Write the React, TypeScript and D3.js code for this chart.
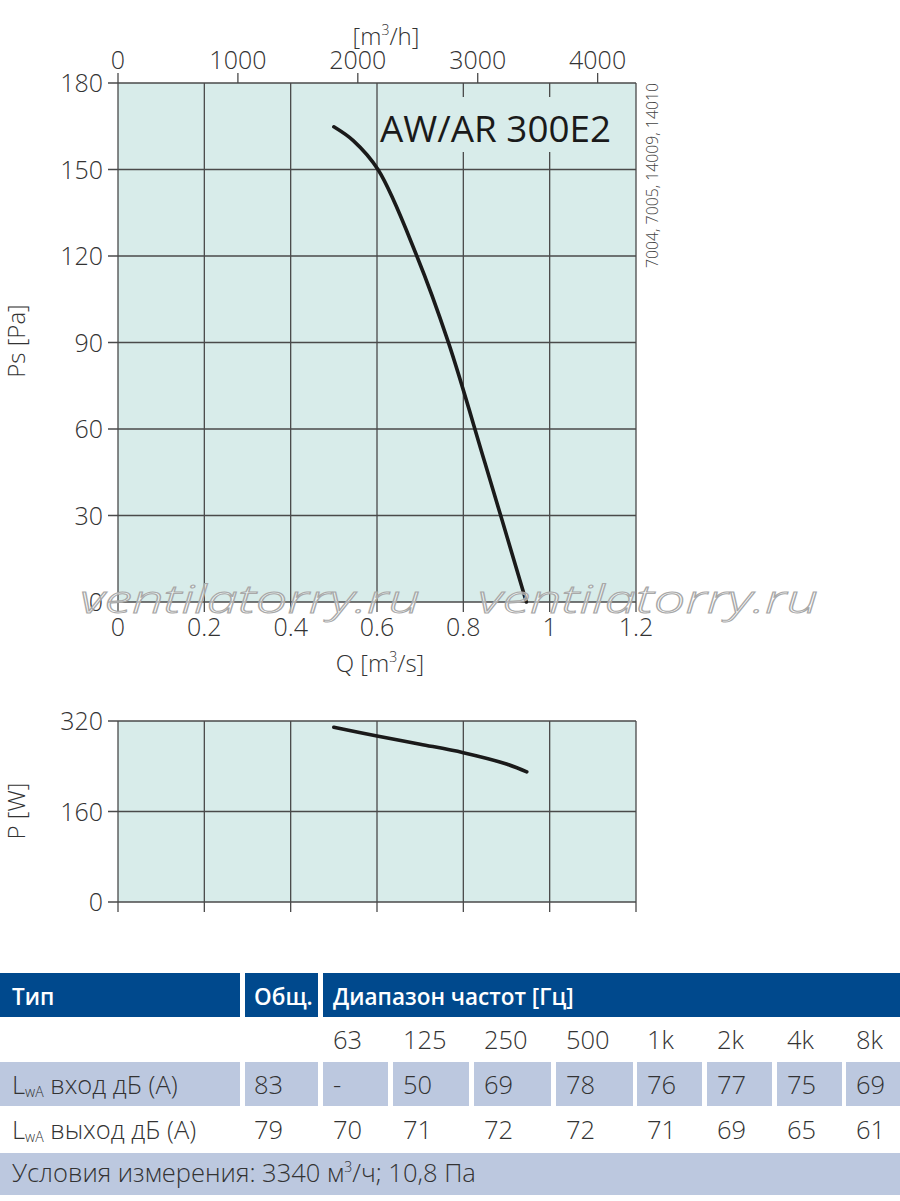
import React from "react";
import * as d3 from "d3";

// ---- Data ----
const qTicks = [0, 0.2, 0.4, 0.6, 0.8, 1, 1.2];
const qTickLabels = ["0", "0.2", "0.4", "0.6", "0.8", "1", "1.2"];
const qhTicks = [0, 1000, 2000, 3000, 4000];
const psTicks = [0, 30, 60, 90, 120, 150, 180];
const pTicks = [0, 160, 320];

const psQ = [0.5, 0.545, 0.603, 0.692, 0.765, 0.85, 0.946];
const psVal = [164.8, 160, 149.8, 120.1, 90.2, 48.3, 0];

const pQ = [0.5, 0.6, 0.7, 0.8, 0.9, 0.947];
const pVal = [309, 293.5, 279, 264, 244, 230];

const modelName = "AW/AR 300E2";
const articleNos = "7004, 7005, 14009, 14010";
const watermark = "ventilatorry.ru";

const freqBands = ["63", "125", "250", "500", "1k", "2k", "4k", "8k"];
const inletTotal = "83";
const inletBands = ["-", "50", "69", "78", "76", "77", "75", "69"];
const outletTotal = "79";
const outletBands = ["70", "71", "72", "72", "71", "69", "65", "61"];
const conditions = "Условия измерения: 3340 м";
const conditionsTail = "/ч; 10,8 Па";

// ---- Layout ----
const W = 900;
const H = 1201;
const X0 = 118;
const X1 = 636;
const FONT = "'Open Sans', 'DejaVu Sans', sans-serif";
const PLOT_BG = "#d8ecea";
const GRID = "#4a4a4a";
const TXT = "#333";
const HEAD_BLUE = "#00498d";
const ROW_BLUE = "#bcc8df";

const colStarts = [0, 245, 323, 393, 474, 556, 637, 707, 777, 846];
const colEnds = [240, 318, 388, 469, 551, 633, 702, 772, 842, 900];

export default function App() {
  const x = d3.scaleLinear().domain([0, 1.2]).range([X0, X1]);
  const xh = d3.scaleLinear().domain([0, 1.2 * 3600]).range([X0, X1]);
  const yPs = d3.scaleLinear().domain([0, 180]).range([602, 83]);
  const yP = d3.scaleLinear().domain([0, 320]).range([902, 721]);

  const psLine = d3
    .line<number>()
    .x((_, i) => x(psQ[i]))
    .y((d) => yPs(d))
    .curve(d3.curveCatmullRom.alpha(0.5));
  const pLine = d3
    .line<number>()
    .x((_, i) => x(pQ[i]))
    .y((d) => yP(d))
    .curve(d3.curveCatmullRom.alpha(0.5));

  const tickFont = { fontFamily: FONT, fontSize: 25, fontWeight: 300, fill: TXT } as const;
  const TS = 25.5;

  const rowText = (
    vals: string[],
    total: string,
    baseline: number,
    label: string
  ) => (
    <g>
      <text x={12} y={baseline} {...tickFont} fontSize={TS}>
        L
        <tspan fontSize={14} dy={3}>wA</tspan>
        <tspan dy={-3}>{" " + label}</tspan>
      </text>
      <text x={colStarts[1] + 9} y={baseline} {...tickFont} fontSize={TS}>
        {total}
      </text>
      {vals.map((v, i) => (
        <text key={i} x={colStarts[i + 2] + 10} y={baseline} {...tickFont} fontSize={TS}>
          {v}
        </text>
      ))}
    </g>
  );

  return (
    <svg
      width={W}
      height={H}
      viewBox={`0 0 ${W} ${H}`}
      style={{ position: "absolute", left: 0, top: 0, background: "#fff" }}
    >
      {/* ===== Main Ps chart ===== */}
      <rect x={X0} y={yPs(180)} width={X1 - X0} height={yPs(0) - yPs(180)} fill={PLOT_BG} />
      {qTicks.map((t) => (
        <line key={"vg" + t} x1={x(t)} x2={x(t)} y1={yPs(180)} y2={yPs(0) + 10} stroke={GRID} strokeWidth={1.3} />
      ))}
      {psTicks.map((t) => (
        <line key={"hg" + t} x1={X0 - 10} x2={X1} y1={yPs(t)} y2={yPs(t)} stroke={GRID} strokeWidth={1.3} />
      ))}
      {/* top axis m3/h */}
      {qhTicks.map((t) => (
        <g key={"th" + t}>
          <line x1={xh(t)} x2={xh(t)} y1={yPs(180) - 10} y2={yPs(180)} stroke={GRID} strokeWidth={1.3} />
          <text x={xh(t)} y={69} textAnchor="middle" {...tickFont}>
            {t}
          </text>
        </g>
      ))}
      <text x={386} y={45} textAnchor="middle" {...tickFont} fontSize={24}>
        [m<tspan fontSize={14} dy={-10}>3</tspan>
        <tspan dy={10}>/h]</tspan>
      </text>
      {psTicks.map((t) => (
        <text key={"yl" + t} x={103} y={yPs(t) + 9} textAnchor="end" {...tickFont}>
          {t}
        </text>
      ))}
      {qTicks.map((t, i) => (
        <text key={"xl" + t} x={x(t)} y={636} textAnchor="middle" {...tickFont}>
          {qTickLabels[i]}
        </text>
      ))}
      <text x={380} y={672} textAnchor="middle" {...tickFont} fontSize={24}>
        Q [m<tspan fontSize={14} dy={-10}>3</tspan>
        <tspan dy={10}>/s]</tspan>
      </text>
      <text transform={`translate(25,341) rotate(-90)`} textAnchor="middle" {...tickFont} fontSize={24}>
        Ps [Pa]
      </text>

      {/* title box */}
      <rect x={379} y={97} width={242} height={55} fill={PLOT_BG} />
      <text x={380} y={142} fontFamily={FONT} fontSize={36} fontWeight={500} fill="#1a1a1a" textLength={231} lengthAdjust="spacingAndGlyphs">
        {modelName}
      </text>
      <text
        transform={`translate(658,268) rotate(-90)`}
        fontFamily={FONT}
        fontSize={16}
        fontWeight={300}
        fill="#444"
        textLength={185}
        lengthAdjust="spacingAndGlyphs"
      >
        {articleNos}
      </text>

      <path d={psLine(psVal) || ""} fill="none" stroke="#1a1a1a" strokeWidth={3.6} strokeLinecap="round" />

      {/* watermark */}
      {[80, 478].map((wx) => (
        <text
          key={"wm" + wx}
          x={wx}
          y={613}
          fontFamily={FONT}
          fontStyle="italic"
          fontWeight={300}
          fontSize={38}
          fill="rgba(255,255,255,0.55)"
          stroke="#a8a8a8"
          strokeWidth={1}
          textLength={340}
          lengthAdjust="spacingAndGlyphs"
        >
          {watermark}
        </text>
      ))}

      {/* ===== Power chart ===== */}
      <rect x={X0} y={yP(320)} width={X1 - X0} height={yP(0) - yP(320)} fill={PLOT_BG} />
      {qTicks.map((t) => (
        <line key={"pvg" + t} x1={x(t)} x2={x(t)} y1={yP(320)} y2={yP(0) + 10} stroke={GRID} strokeWidth={1.3} />
      ))}
      {pTicks.map((t) => (
        <line key={"phg" + t} x1={X0 - 10} x2={X1} y1={yP(t)} y2={yP(t)} stroke={GRID} strokeWidth={1.3} />
      ))}
      {pTicks.map((t) => (
        <text key={"pyl" + t} x={103} y={yP(t) + 9} textAnchor="end" {...tickFont}>
          {t}
        </text>
      ))}
      <text transform={`translate(25,811) rotate(-90)`} textAnchor="middle" {...tickFont} fontSize={24}>
        P [W]
      </text>
      <path d={pLine(pVal) || ""} fill="none" stroke="#1a1a1a" strokeWidth={3.6} strokeLinecap="round" />

      {/* ===== Table ===== */}
      <rect x={colStarts[0]} y={973} width={colEnds[0] - colStarts[0]} height={44} fill={HEAD_BLUE} />
      <rect x={colStarts[1]} y={973} width={colEnds[1] - colStarts[1]} height={44} fill={HEAD_BLUE} />
      <rect x={colStarts[2]} y={973} width={W - colStarts[2]} height={44} fill={HEAD_BLUE} />
      <text x={12} y={1005} fontFamily={FONT} fontSize={22.5} fontWeight={600} fill="#fff">
        Тип
      </text>
      <text x={254} y={1005} fontFamily={FONT} fontSize={22.5} fontWeight={600} fill="#fff">
        Общ.
      </text>
      <text x={333} y={1005} fontFamily={FONT} fontSize={22.5} fontWeight={600} fill="#fff">
        Диапазон частот [Гц]
      </text>

      {freqBands.map((f, i) => (
        <text key={"fb" + f} x={colStarts[i + 2] + 10} y={1049} {...tickFont} fontSize={TS}>
          {f}
        </text>
      ))}

      {colStarts.map((cs, i) => (
        <rect key={"r3" + i} x={cs} y={1062} width={colEnds[i] - cs} height={44} fill={ROW_BLUE} />
      ))}
      {rowText(inletBands, inletTotal, 1094, "вход дБ (А)")}
      {rowText(outletBands, outletTotal, 1139, "выход дБ (А)")}

      <rect x={0} y={1153} width={W} height={42} fill={ROW_BLUE} />
      <text x={12} y={1182} {...tickFont} fontSize={TS}>
        {conditions}
        <tspan fontSize={14} dy={-10}>3</tspan>
        <tspan dy={10}>{conditionsTail}</tspan>
      </text>
    </svg>
  );
}
